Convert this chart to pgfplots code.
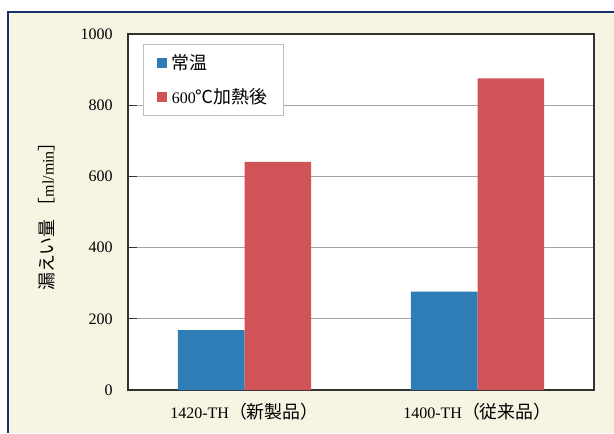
\documentclass[border=0pt]{standalone}
\usepackage{pgfplots}
\pgfplotsset{compat=1.18}
\usepackage{fontspec}
\setmainfont{Liberation Serif}
\newfontfamily\cjk[Scale=1.12]{Noto Sans CJK JP}

\definecolor{barblue}{RGB}{46,125,182}
\definecolor{barred}{RGB}{208,84,87}
\definecolor{panel}{RGB}{246,244,226}
\definecolor{frameblue}{RGB}{26,46,110}
\definecolor{gridgray}{RGB}{165,165,165}
\definecolor{axisgray}{RGB}{50,50,50}

\begin{document}
\begin{tikzpicture}
  % background panel, sized as the reference image (614 x 433 px, 1px = 0.75pt)
  \path[use as bounding box, fill=white] (0pt,0pt) rectangle (460.5pt,324.75pt);
  \fill[panel] (6pt,0pt) rectangle (460.5pt,315.75pt);
  \draw[frameblue, line width=0.9pt] (6pt,0pt) -- (6pt,315.75pt) -- (460.5pt,315.75pt);

  \begin{axis}[
    at={(96pt,32.25pt)}, anchor=south west,
    scale only axis,
    width=349.5pt, height=267pt,
    axis background/.style={fill=white},
    axis line style={axisgray, line width=0.8pt},
    ybar=0pt,
    bar width=49.9pt,
    xmin=-0.5, xmax=1.5,
    ymin=0, ymax=1000,
    ytick={0,200,400,600,800,1000},
    yticklabel style={/pgf/number format/set thousands separator={}, xshift=-8pt},
    xtick={0,1},
    xticklabels={1420-TH{\cjk （新製品）}, 1400-TH{\cjk （従来品）}},
    x tick style={draw=none},
    extra x ticks={0.5},
    extra x tick labels={},
    extra x tick style={tick style={draw=axisgray, line width=0.8pt}, major tick length=4pt, tick align=inside},
    y tick style={axisgray, line width=0.8pt},
    major tick length=6.75pt,
    tick align=inside,
    xtick pos=bottom, ytick pos=left,
    ymajorgrids,
    grid style={gridgray, line width=0.8pt},
    tick label style={font=\fontsize{12}{14}\selectfont},
    /pgf/number format/assume math mode=true,
    xticklabel style={yshift=-6pt},
    ylabel={{\cjk 漏えい量 ［}ml/min{\cjk ］}},
    ylabel style={at={(axis description cs:-0.174,0.5)}, anchor=center, font=\fontsize{12}{14}\selectfont},
    legend style={
      at={(axis description cs:0.032,0.972)}, anchor=north west,
      draw=gray!50, fill=white,
      font=\fontsize{12}{14}\selectfont,
      inner xsep=10pt, inner ysep=5.5pt,
      row sep=9pt,
      nodes={inner sep=2pt},
      legend cell align=left,
      /tikz/every odd column/.append style={column sep=2pt},
      /tikz/every even column/.append style={column sep=8pt},
    },
    legend image code/.code={\fill[#1] (0pt,-3.75pt) rectangle (7.5pt,3.75pt);},
  ]
    \addplot[fill=barblue, draw=none] coordinates {(0,168) (1,276)};
    \addlegendentry{\cjk 常温}
    \addplot[fill=barred, draw=none] coordinates {(0,641) (1,875)};
    \addlegendentry{600{\cjk ℃加熱後}}
  \end{axis}
\end{tikzpicture}
\end{document}
